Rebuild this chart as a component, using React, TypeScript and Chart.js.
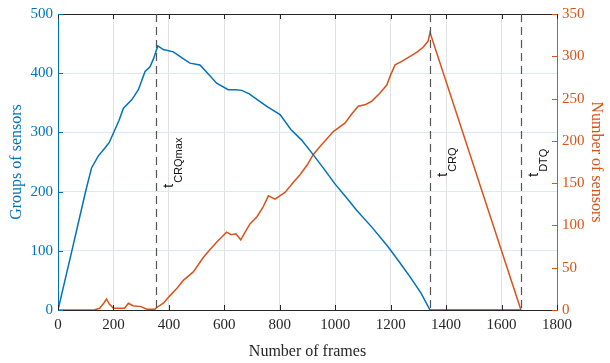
import React, { useEffect, useRef } from "react";
import { Chart, registerables } from "chart.js";

Chart.register(...registerables);

// ---- data ----
const groupFrames = [0, 50, 100, 121, 145, 170, 185, 200, 220, 236, 266, 290, 314, 332, 345, 360, 380, 416, 450, 476, 512, 540, 572, 614, 640, 663, 690, 720, 753, 801, 840, 879, 921, 960, 999, 1040, 1078, 1132, 1192, 1230, 1270, 1310, 1342, 1670];
const groupValues = [0, 100, 201, 240, 260, 274, 283, 299, 320, 341, 355, 372, 403, 411, 425, 446, 440, 436, 425, 417, 414, 400, 383, 372, 372, 371, 365, 355, 344, 330, 305, 287, 262, 238, 213, 190, 168, 140, 106, 82, 56, 28, 0, 0];

const sensorFrames = [0, 130, 150, 165, 175, 185, 200, 240, 254, 270, 300, 320, 350, 356, 380, 404, 430, 452, 488, 524, 550, 572, 590, 608, 625, 642, 659, 675, 693, 717, 740, 759, 783, 800, 819, 849, 873, 900, 921, 950, 993, 1035, 1060, 1083, 1110, 1132, 1160, 1186, 1200, 1216, 1240, 1270, 1295, 1318, 1335, 1342, 1670];
const sensorValues = [0, 0, 2, 8, 13, 7, 2, 2, 8, 5, 4, 1, 1, 3, 8, 17, 26, 35, 45, 62, 72, 80, 86, 92, 89, 90, 83, 92, 102, 110, 122, 135, 131, 135, 139, 151, 160, 172, 184, 195, 211, 221, 232, 241, 243, 247, 256, 266, 278, 290, 294, 300, 305, 311, 318, 328, 0];

const markerFrames = [353, 1342, 1670];
const markerSubs = ["CRQmax", "CRQ", "DTQ"];
const markerTextBottom = [188, 177, 177];

const xTickStep = 200;
const leftTickStep = 100;
const rightTickStep = 50;

const BLUE = "#0072BD";
const ORANGE = "#D95319";
const DARK = "#262626";
const SERIF = "'Liberation Serif', 'Times New Roman', serif";
const SANS = "'Liberation Sans', Arial, sans-serif";

const toPts = (xs: number[], ys: number[]) => xs.map((x, i) => ({ x, y: ys[i] }));
const plain = (v: any) => String(v);

const decorPlugin = {
  id: "decor",
  afterDatasetsDraw(chart: any) {
    const { ctx, chartArea, scales } = chart;
    const { left, right, top, bottom } = chartArea;
    const xs = scales.x;
    ctx.save();
    // top border
    ctx.strokeStyle = DARK;
    ctx.lineWidth = 1;
    ctx.beginPath();
    ctx.moveTo(left, top + 0.5);
    ctx.lineTo(right, top + 0.5);
    ctx.stroke();
    const tl = 5;
    xs.ticks.forEach((t: any) => {
      const px = Math.round(xs.getPixelForValue(t.value)) + 0.5;
      ctx.beginPath();
      ctx.moveTo(px, bottom);
      ctx.lineTo(px, bottom - tl);
      ctx.moveTo(px, top);
      ctx.lineTo(px, top + tl);
      ctx.stroke();
    });
    ctx.strokeStyle = BLUE;
    scales.yL.ticks.forEach((t: any) => {
      const py = Math.round(scales.yL.getPixelForValue(t.value)) + 0.5;
      ctx.beginPath();
      ctx.moveTo(left, py);
      ctx.lineTo(left + tl, py);
      ctx.stroke();
    });
    ctx.strokeStyle = ORANGE;
    scales.yR.ticks.forEach((t: any) => {
      const py = Math.round(scales.yR.getPixelForValue(t.value)) + 0.5;
      ctx.beginPath();
      ctx.moveTo(right, py);
      ctx.lineTo(right - tl, py);
      ctx.stroke();
    });
    // dashed markers
    ctx.strokeStyle = "#555555";
    ctx.lineWidth = 1.2;
    ctx.setLineDash([8, 5]);
    markerFrames.forEach((f) => {
      const px = Math.round(xs.getPixelForValue(f)) + 0.5;
      ctx.beginPath();
      ctx.moveTo(px, top);
      ctx.lineTo(px, bottom);
      ctx.stroke();
    });
    ctx.setLineDash([]);
    ctx.fillStyle = "#111111";
    markerFrames.forEach((f, i) => {
      const px = xs.getPixelForValue(f);
      const yb = markerTextBottom[i];
      ctx.save();
      ctx.translate(px + 17, yb);
      ctx.rotate(-Math.PI / 2);
      ctx.textBaseline = "alphabetic";
      ctx.textAlign = "left";
      ctx.font = `15px ${SANS}`;
      ctx.fillText("t", 0, 0);
      const w = ctx.measureText("t").width;
      ctx.font = `11px ${SANS}`;
      ctx.fillText(markerSubs[i], w + 1, 9);
      ctx.restore();
    });
    ctx.restore();
  },
};

export default function App() {
  const ref = useRef<HTMLCanvasElement | null>(null);
  useEffect(() => {
    if (!ref.current) return;
    const chart = new Chart(ref.current, {
      type: "line",
      data: {
        datasets: [
          {
            data: toPts(groupFrames, groupValues),
            borderColor: BLUE,
            borderWidth: 1.5,
            pointRadius: 0,
            yAxisID: "yL",
            tension: 0,
          },
          {
            data: toPts(sensorFrames, sensorValues),
            borderColor: ORANGE,
            borderWidth: 1.5,
            pointRadius: 0,
            yAxisID: "yR",
            tension: 0,
          },
        ],
      },
      options: {
        responsive: false,
        animation: false,
        events: [],
        layout: { padding: { top: 12, left: 0, right: 0, bottom: 0 } },
        plugins: { legend: { display: false }, tooltip: { enabled: false } },
        scales: {
          x: {
            type: "linear",
            min: 0,
            max: 1800,
            afterFit: (s: any) => { s.height = 53; },
            ticks: { stepSize: xTickStep, color: DARK, font: { family: SERIF, size: 15 }, padding: 6, maxRotation: 0, callback: plain },
            grid: { color: "#e2e2e2", drawTicks: false },
            border: { color: DARK, width: 1 },
            title: { display: true, text: "Number of frames", color: DARK, font: { family: SERIF, size: 16 }, padding: { top: 0, bottom: 2 } },
          },
          yL: {
            type: "linear",
            position: "left",
            min: 0,
            max: 500,
            afterFit: (s: any) => { s.width = 58; },
            ticks: { stepSize: leftTickStep, color: BLUE, font: { family: SERIF, size: 15 }, padding: 5, callback: plain },
            grid: { color: "#d9eaf5", drawTicks: false },
            border: { color: BLUE, width: 1 },
            title: { display: true, text: "Groups of sensors", color: BLUE, font: { family: SERIF, size: 16 }, padding: { top: 7, bottom: 0 } },
          },
          yR: {
            type: "linear",
            position: "right",
            min: 0,
            max: 350,
            afterFit: (s: any) => { s.width = 53; },
            ticks: { stepSize: rightTickStep, color: ORANGE, font: { family: SERIF, size: 15 }, padding: 5, callback: plain },
            grid: { display: false, drawTicks: false },
            border: { color: ORANGE, width: 1 },
            title: { display: true, text: "Number of sensors", color: ORANGE, font: { family: SERIF, size: 16 }, padding: { top: 4, bottom: 0 } },
          },
        },
      },
      plugins: [decorPlugin],
    } as any);
    return () => chart.destroy();
  }, []);
  return (
    <div style={{ position: "absolute", left: 0, top: 0, width: 610, height: 363, background: "#fff" }}>
      <canvas ref={ref} width={610} height={363} />
    </div>
  );
}
